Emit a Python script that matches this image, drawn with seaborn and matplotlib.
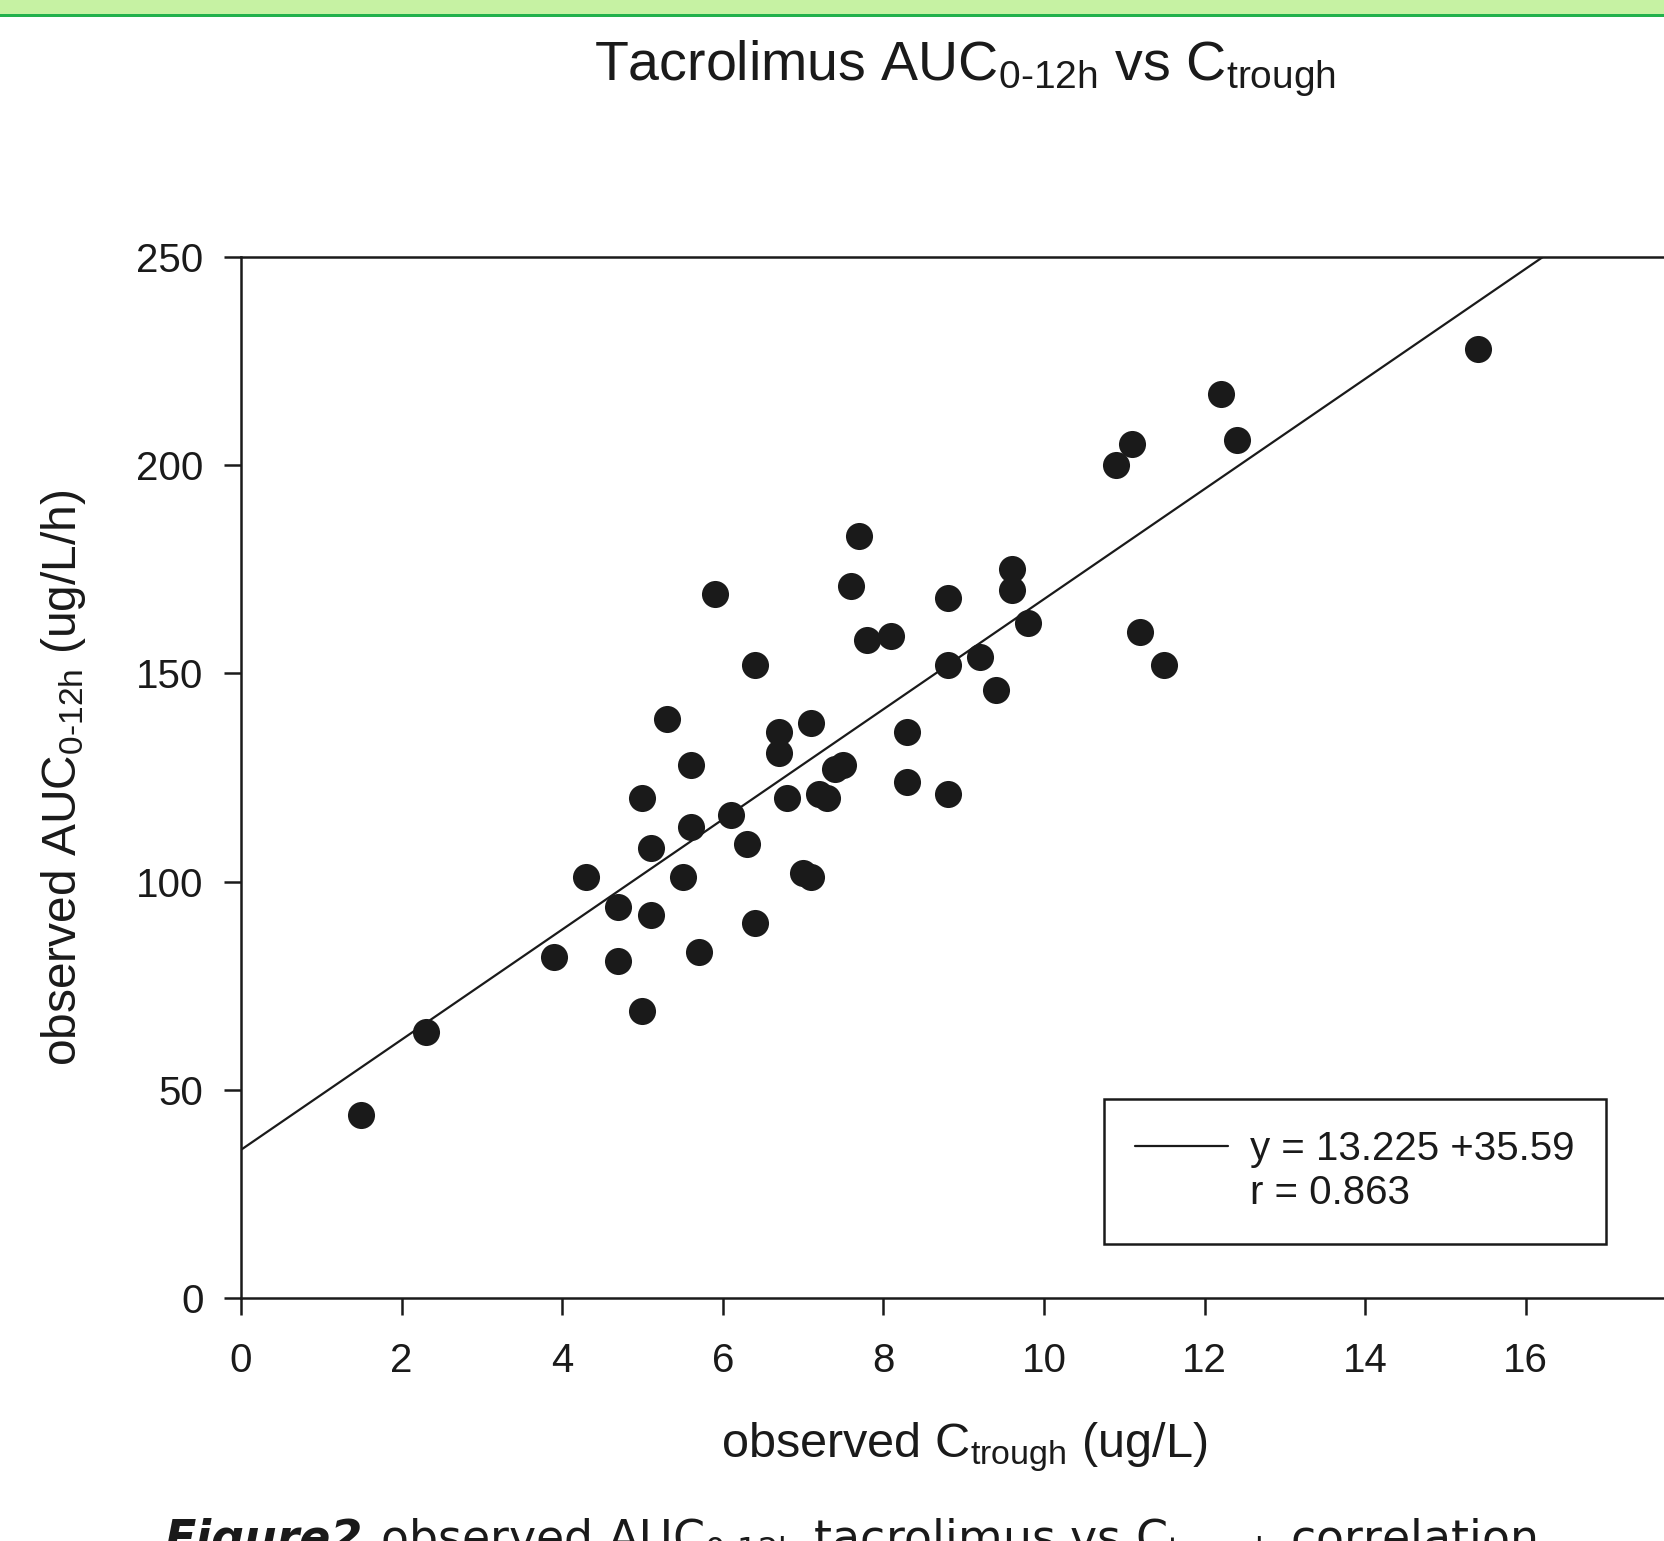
import matplotlib
matplotlib.use("Agg")
import matplotlib.pyplot as plt
from matplotlib.lines import Line2D
from matplotlib.patches import Rectangle
import seaborn as sns

# observed C_trough (ug/L) and AUC_0-12h (ug/L/h)
ctrough = [1.5, 2.3, 3.9, 4.3, 4.7, 4.7, 5.0, 5.0, 5.1, 5.1, 5.3, 5.5, 5.6, 5.6,
           5.7, 5.9, 6.1, 6.3, 6.4, 6.4, 6.7, 6.7, 6.8, 7.0, 7.1, 7.1, 7.2, 7.3,
           7.4, 7.5, 7.6, 7.7, 7.8, 8.1, 8.3, 8.3, 8.8, 8.8, 8.8, 9.2, 9.4, 9.6,
           9.6, 9.8, 10.9, 11.1, 11.2, 11.5, 12.2, 12.4, 15.4]
auc = [44, 64, 82, 101, 94, 81, 120, 69, 108, 92, 139, 101, 128, 113,
       83, 169, 116, 109, 152, 90, 136, 131, 120, 102, 101, 138, 121, 120,
       127, 128, 171, 183, 158, 159, 136, 124, 168, 152, 121, 154, 146, 175,
       170, 162, 200, 205, 160, 152, 217, 206, 228]

# regression y = 13.225x + 35.59, r = 0.863
slope = 13.225
intercept = 35.59
r_value = 0.863
fit_x = [0, 18]
fit_y = [intercept + slope * v for v in fit_x]

x_ticks = [0, 2, 4, 6, 8, 10, 12, 14, 16]
y_ticks = [0, 50, 100, 150, 200, 250]

sns.set_style("ticks")
plt.rcParams["font.family"] = ["Liberation Sans", "DejaVu Sans"]
plt.rcParams["mathtext.fontset"] = "custom"
plt.rcParams["mathtext.rm"] = "Liberation Sans"
plt.rcParams["mathtext.it"] = "Liberation Sans:italic"
plt.rcParams["mathtext.bf"] = "Liberation Sans:bold"

ink = "#1a1a1a"
W, H = 1664, 1541
fig = plt.figure(figsize=(W / 100, H / 100), dpi=100)
fig.patch.set_facecolor("white")

# green header strip
fig.add_artist(Rectangle((0, 1 - 15 / H), 1, 15 / H, transform=fig.transFigure,
                         facecolor="#c6f2a3", edgecolor="none"))
fig.add_artist(Rectangle((0, 1 - 17 / H), 1, 3 / H, transform=fig.transFigure,
                         facecolor="#22b14c", edgecolor="none"))

ax = fig.add_axes([241 / W, (H - 1298) / H, 18 * 80.3 / W, 1041 / H])

sns.scatterplot(x=ctrough, y=auc, ax=ax, color=ink, s=380, linewidth=0,
                edgecolor=None, zorder=3)
sns.lineplot(x=fit_x, y=fit_y, ax=ax, color=ink, linewidth=1.6, zorder=2)

ax.set_xlim(0, 18)
ax.set_ylim(0, 250)
ax.set_xticks(x_ticks)
ax.set_yticks(y_ticks)
ax.tick_params(axis="both", direction="out", length=12, width=1.8,
               colors=ink, labelsize=29)
ax.tick_params(axis="x", pad=20)
ax.tick_params(axis="y", pad=15)
for side in ["left", "bottom", "top", "right"]:
    ax.spines[side].set_linewidth(1.8)
    ax.spines[side].set_color(ink)

ax.set_xlabel(r"observed C$_{\text{trough}}$ (ug/L)", fontsize=35, color=ink)
ax.set_ylabel(r"observed AUC$_{\text{0-12h}}$ (ug/L/h)", fontsize=34.5, color=ink)
ax.xaxis.set_label_coords(0.5, -0.117)
ax.xaxis.label.set_va("top")
ax.yaxis.set_label_coords(-0.106, 0.5)

handles = [Line2D([], [], color=ink, linewidth=1.6),
           Line2D([], [], color="none")]
labels = [f"y = {slope} +{intercept}", f"r = {r_value}"]
leg = ax.legend(handles, labels, loc="lower left", bbox_to_anchor=(0.597, 0.052),
                borderaxespad=0, frameon=True, fancybox=False, framealpha=1,
                edgecolor=ink, fontsize=29, handlelength=2.3,
                handletextpad=0.55, labelspacing=0.15, borderpad=0.78)
leg.get_frame().set_linewidth(1.8)
for t in leg.get_texts():
    t.set_color(ink)

fig.text(965 / W, 1 - 80 / H,
         r"Tacrolimus AUC$_{\text{0-12h}}$ vs C$_{\text{trough}}$",
         ha="center", va="baseline", fontsize=40, color=ink)

# caption below, cut off by the bottom edge as in the source page
fig.text(164 / W, -12 / H, "Figure2", ha="left", va="baseline", fontsize=33,
         fontweight="bold", fontstyle="italic", family="DejaVu Sans", color=ink)
fig.text(380 / W, -12 / H,
         r"observed AUC$_{\text{0-12h}}$ tacrolimus vs C$_{\text{trough}}$ correlation",
         ha="left", va="baseline", fontsize=33, family="DejaVu Sans",
         math_fontfamily="dejavusans", color=ink)

fig.savefig("out.png", dpi=100, facecolor="white")
